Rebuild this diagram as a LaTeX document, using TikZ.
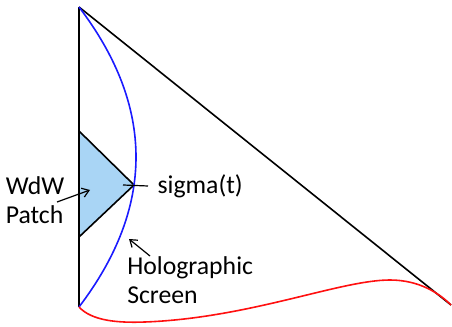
\documentclass[tikz,border=0pt]{standalone}
\usepackage{fontspec}
\setmainfont{Carlito}
\usetikzlibrary{positioning,calc,arrows.meta}
\definecolor{patchblue}{HTML}{A9D5F5}
\definecolor{screenblue}{HTML}{1A1AFF}
\definecolor{bdyred}{HTML}{FF1010}

\begin{document}
\begin{tikzpicture}[x=0.75pt, y=-0.75pt,
  edge/.style={line width=1.2pt, black},
  screen/.style={line width=1.2pt, screenblue},
  bdy/.style={line width=1.2pt, bdyred},
  patch/.style={draw=black, line width=0.9pt, fill=patchblue},
  lbl/.style={font=\fontsize{19.3}{21.8}\selectfont, align=left},
  arr/.style={line width=0.9pt, -{Straight Barb[length=5pt, width=7pt]}},
]
\useasboundingbox (0,0) rectangle (452,327);

% corners of the Penrose diagram
\coordinate (top)   at (79,7);
\coordinate (botl)  at (79,307);
\coordinate (botr)  at (451,305);

% WdW patch, tip sits on the screen
\coordinate (ptop)  at (79,131);
\coordinate (ptip)  at (134,185);
\coordinate (pbot)  at (79,237);

\fill[patchblue] (ptop) -- (ptip) -- (pbot) -- cycle;
\draw[edge] (ptop) -- (ptip) -- (pbot);

\draw[edge] (top) -- (botl);
\draw[edge] (top) -- (botr);

% holographic screen
\draw[screen] (top) .. controls (155,107) and (155,207) .. (botl);

% boundary
\draw[bdy] (botl) .. controls (92,321) and (118,323) .. (145,322)
  .. controls (250,318) and (340,280) .. (390,280)
  .. controls (420,280) and (440,294) .. (botr);

% labels
\node[lbl, inner sep=0pt] (wdw) at (35,200) {WdW\\Patch};
\node[lbl, inner sep=7pt, anchor=west] (sigma) at (148,186) {sigma(t)};
\node[lbl, inner sep=0pt, anchor=north west] (holo) at (127,256) {Holographic\\Screen};

\coordinate (sigin)    at (123,185);
\coordinate (wdwtail)  at (57,202);
\coordinate (wdwhead)  at (90,190);
\coordinate (holotail) at (150,256);
\coordinate (holohead) at (129,239);

\draw[line width=0.9pt] (sigma.west) -- (sigin);
\draw[arr] (wdwtail) -- (wdwhead);
\draw[arr] (holotail) -- (holohead);
\end{tikzpicture}
\end{document}
